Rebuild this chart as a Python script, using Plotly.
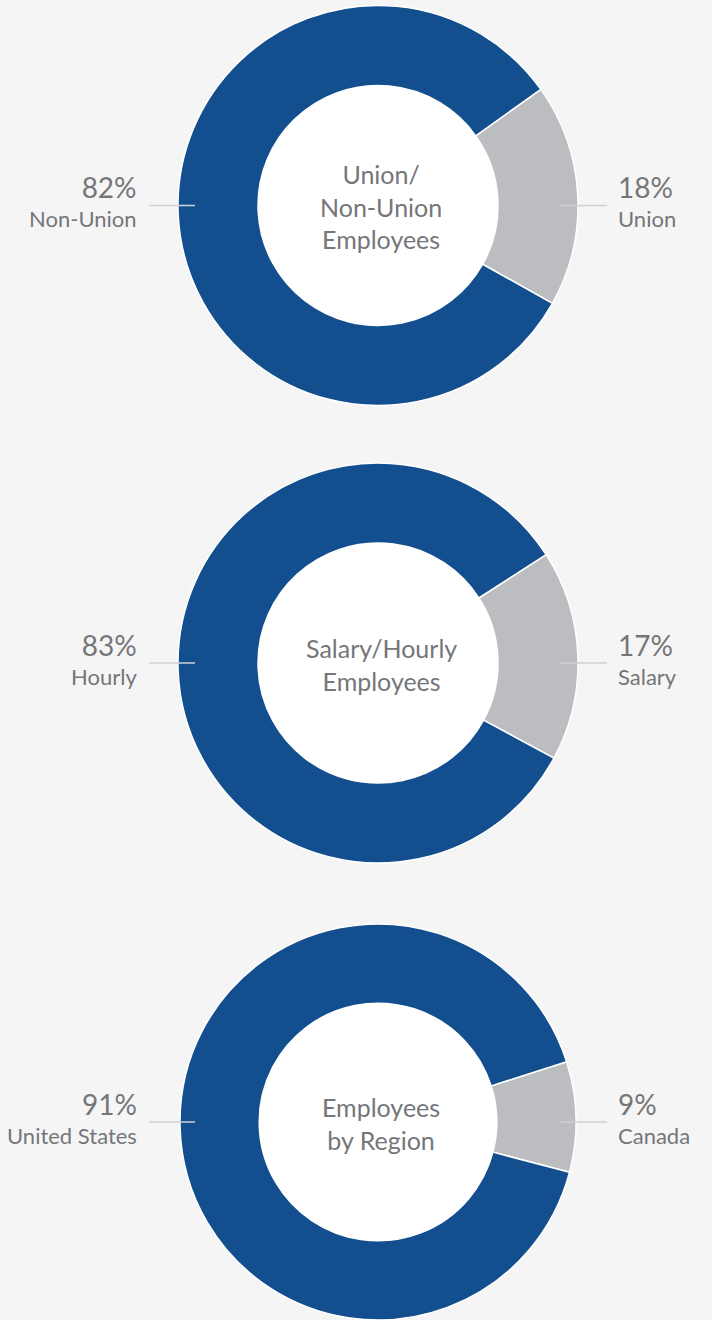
import plotly.graph_objects as go

titles = ["Union/<br>Non-Union<br>Employees", "Salary/Hourly<br>Employees", "Employees<br>by Region"]
major_labels = ["Non-Union", "Hourly", "United States"]
major_values = [82, 83, 91]
minor_labels = ["Union", "Salary", "Canada"]
minor_values = [18, 17, 9]
start_angles = [54.5, 57.2, 72.3]

W, H = 712, 1320
BLUE = "#134f8e"
GREY = "#bcbdc0"
TXT = "#75767a"
LINE = "#cfd1d3"
BG = "#f5f5f5"
FONT = "Lato"

centers_y = [205.5, 663, 1122]
cx = 378
R = 200
HOLE = 0.6


def side_text(pct, label):
    return f"<span style='font-size:28px'>{pct}%</span><br>{label}"


fig = go.Figure()
annotations = []
shapes = []
for i in range(3):
    cy = centers_y[i]
    top = cy - R
    bot = min(cy + R, H)
    r = min(R, bot - cy, cy - top)
    y0 = 1 - (cy + r) / H
    y1 = 1 - (cy - r) / H
    x0 = (cx - r) / W
    x1 = (cx + r) / W
    mv = minor_values[i]
    fig.add_trace(go.Pie(
        values=[mv, major_values[i]],
        labels=[minor_labels[i], major_labels[i]],
        hole=HOLE,
        sort=False,
        direction="clockwise",
        rotation=start_angles[i],
        marker=dict(colors=[GREY, BLUE], line=dict(color="white", width=1.5)),
        textinfo="none",
        hoverinfo="label+percent",
        domain=dict(x=[x0, x1], y=[y0, y1]),
        showlegend=False,
    ))
    yc = 1 - cy / H
    annotations.append(dict(x=(cx + 3) / W, y=1 - (cy + 1) / H, xref="paper", yref="paper",
                            text=titles[i], showarrow=False,
                            font=dict(family=FONT, size=25, color=TXT),
                            xanchor="center", yanchor="middle", align="center"))
    annotations.append(dict(x=139 / W, y=1 - (cy - 4) / H, xref="paper", yref="paper",
                            text=side_text(major_values[i], major_labels[i]), showarrow=False,
                            font=dict(family=FONT, size=22, color=TXT),
                            xanchor="right", yanchor="middle", align="right"))
    annotations.append(dict(x=616 / W, y=1 - (cy - 4) / H, xref="paper", yref="paper",
                            text=side_text(minor_values[i], minor_labels[i]), showarrow=False,
                            font=dict(family=FONT, size=22, color=TXT),
                            xanchor="left", yanchor="middle", align="left"))
    shapes.append(dict(type="line", xref="paper", yref="paper", x0=149 / W, x1=195 / W,
                       y0=yc, y1=yc, line=dict(color=LINE, width=1.5), layer="above"))
    shapes.append(dict(type="line", xref="paper", yref="paper", x0=560 / W, x1=607 / W,
                       y0=yc, y1=yc, line=dict(color=LINE, width=1.5), layer="above"))

fig.update_layout(
    width=W, height=H,
    margin=dict(l=0, r=0, t=0, b=0),
    paper_bgcolor=BG, plot_bgcolor=BG,
    annotations=annotations, shapes=shapes,
)
for i in range(3):
    cy = centers_y[i]
    ri = HOLE * R
    fig.add_shape(type="circle", xref="paper", yref="paper",
                  x0=(cx - ri) / W, x1=(cx + ri) / W,
                  y0=1 - (cy + ri) / H, y1=1 - (cy - ri) / H,
                  fillcolor="white", line=dict(width=0), layer="below")

fig.write_html("out.html", config={"displayModeBar": False},
               post_script="document.body.style.margin='0';document.body.style.background='#f5f5f5';document.body.style.overflow='hidden';")
